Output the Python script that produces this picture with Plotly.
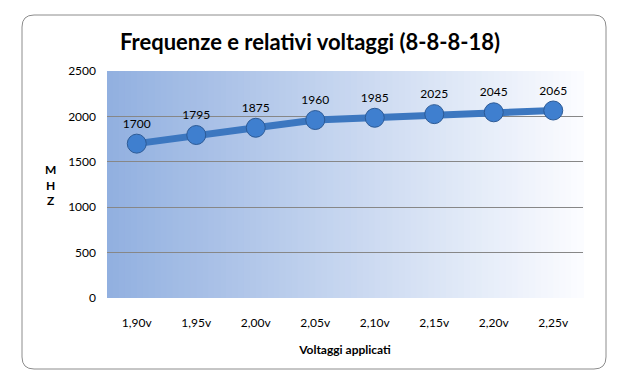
import plotly.graph_objects as go

categories = ["1,90v", "1,95v", "2,00v", "2,05v", "2,10v", "2,15v", "2,20v", "2,25v"]
mhz = [1700, 1795, 1875, 1960, 1985, 2025, 2045, 2065]
y_ticks = [0, 500, 1000, 1500, 2000, 2500]

W, H = 617, 386
L, R, T, B = 107, 583, 71, 298
FONT = "Lato, Open Sans, sans-serif"

fig = go.Figure()
fig.add_trace(go.Scatter(
    x=categories, y=mhz, mode="lines+markers+text",
    text=[str(v) for v in mhz], textposition="top center",
    textfont=dict(family=FONT, size=12, color="#000000"),
    line=dict(color="#3C77C0", width=7),
    marker=dict(size=19, color="#3F7FCF", line=dict(color="#2C5A96", width=1)),
    cliponaxis=False, showlegend=False, hoverinfo="skip",
))

shapes = []
# gradient plot background
N = 80
c0 = (146, 176, 224)
c1 = (251, 252, 255)
for i in range(N):
    t = i / (N - 1)
    c = tuple(round(c0[k] + (c1[k] - c0[k]) * t) for k in range(3))
    shapes.append(dict(type="rect", xref="x domain", yref="y domain",
                       x0=i / N, x1=(i + 1) / N + 0.002, y0=0, y1=1,
                       fillcolor="rgb(%d,%d,%d)" % c, line=dict(width=0), layer="below"))

# rounded outer border
def px(x):
    return (x - L) / (R - L)
def py(y):
    return (B - y) / (B - T)
x0, x1, y0, y1, r = 22, 606, 15, 369, 12
path = (f"M {px(x0+r)},{py(y0)} L {px(x1-r)},{py(y0)} Q {px(x1)},{py(y0)} {px(x1)},{py(y0+r)} "
        f"L {px(x1)},{py(y1-r)} Q {px(x1)},{py(y1)} {px(x1-r)},{py(y1)} "
        f"L {px(x0+r)},{py(y1)} Q {px(x0)},{py(y1)} {px(x0)},{py(y1-r)} "
        f"L {px(x0)},{py(y0+r)} Q {px(x0)},{py(y0)} {px(x0+r)},{py(y0)} Z")
shapes.append(dict(type="path", xref="paper", yref="paper", path=path,
                   line=dict(color="#8C8C8C", width=1), fillcolor="rgba(0,0,0,0)", layer="below"))

fig.update_layout(
    width=W, height=H,
    margin=dict(l=L, r=W - R, t=T, b=H - B),
    paper_bgcolor="white", plot_bgcolor="white",
    font=dict(family=FONT, size=12, color="#000000"),
    title=dict(text="<b>Frequenze e relativi voltaggi (8-8-8-18)</b>",
               x=310 / W, xanchor="center", y=1 - 42 / H, yanchor="middle",
               font=dict(family=FONT, size=22, color="#000000")),
    xaxis=dict(type="category", range=[-0.5, 7.5], showgrid=False, zeroline=False,
               showline=False, ticks="", ticklabelstandoff=16,
               title=dict(text="<b>Voltaggi applicati</b>", standoff=16,
                          font=dict(size=12))),
    yaxis=dict(range=[0, 2500], tickvals=y_ticks, showgrid=True, gridcolor="#878787",
               gridwidth=1, zeroline=False, showline=False, ticks="", ticklabelstandoff=10),
    shapes=shapes,
    annotations=[dict(text="<b>M<br>H<br>Z</b>", xref="paper", yref="paper",
                      x=px(50), y=py(185), xanchor="center", yanchor="middle",
                      showarrow=False, font=dict(size=12), align="center")],
)
fig.write_html("out.html", config={"displayModeBar": False},
               post_script="document.body.style.margin='0';")
